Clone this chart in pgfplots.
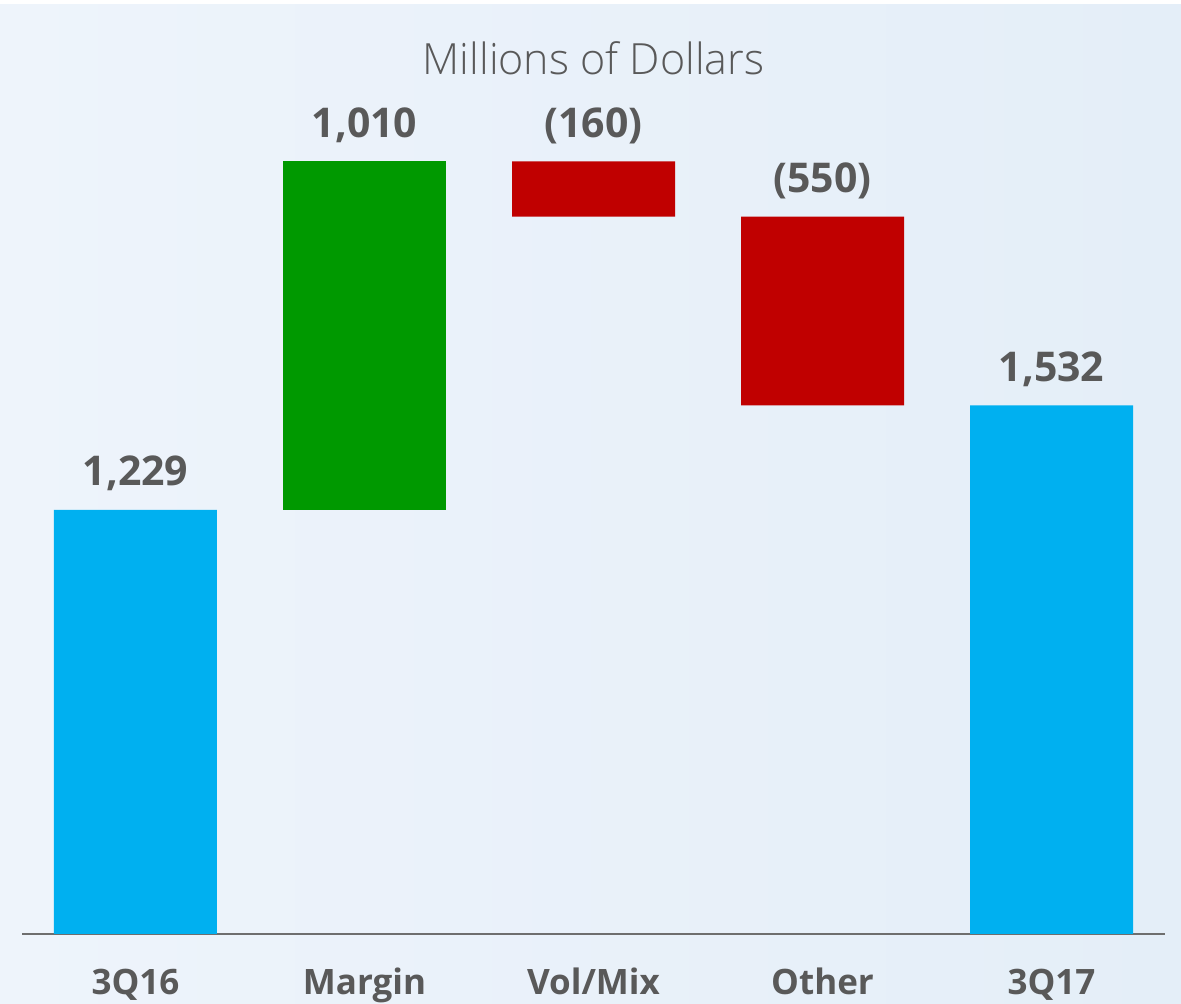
\documentclass[border=0pt]{standalone}
\usepackage{pgfplots}
\pgfplotsset{compat=1.18}
\usepackage{pgfplotstable}
\usepackage{fontspec}
\setmainfont{Open Sans}
\newfontfamily\lightfont{Open Sans Light}
\definecolor{barblue}{HTML}{00B0F0}
\definecolor{bargreen}{HTML}{009900}
\definecolor{barred}{HTML}{C00000}
\definecolor{txt}{HTML}{595959}
\definecolor{axisc}{HTML}{6E6E6E}
\definecolor{bgL}{HTML}{EEF4FB}
\definecolor{bgR}{HTML}{E4EEF8}

% waterfall: invisible base + visible segment
\pgfplotstableread{
x base blue green red
0 0 1229 0 0
1 1229 0 1010 0
2 2079 0 0 160
3 1532 0 0 547
4 0 1532 0 0
}\wf

% value labels at the top of each bar
\pgfplotstableread{
x top lab
0 1229 1,229
1 2239 1,010
2 2239 (160)
3 2079 (550)
4 1532 1,532
}\lbl

\pgfplotsset{common/.style={
  at={(0,0)}, anchor=south west, scale only axis,
  width=571.5pt, height=467pt,
  xmin=-0.4956, xmax=4.4956, ymin=0, ymax=2707, clip=false}}

\begin{document}
\begin{tikzpicture}
\fill[white] (-11pt,-35pt) rectangle (579.5pt,467pt);
\shade[left color=bgL, right color=bgR] (-11pt,-35pt) rectangle (579.5pt,464.5pt);
\begin{axis}[common,
  ybar stacked, bar width=81.5pt,
  axis y line=none, axis x line=bottom,
  x axis line style={-, draw=axisc, line width=1pt},
  xtick={0,1,2,3,4}, xticklabels={3Q16,Margin,Vol/Mix,Other,3Q17},
  major tick length=0pt,
  xticklabel style={font=\fontsize{17.5}{17.5}\selectfont\bfseries, text=txt, anchor=base, yshift=-30.5pt},
]
\addplot[fill=none, draw=none] table[x=x,y=base]{\wf};
\addplot[fill=barblue, draw=none] table[x=x,y=blue]{\wf};
\addplot[fill=bargreen, draw=none] table[x=x,y=green]{\wf};
\addplot[fill=barred, draw=none] table[x=x,y=red]{\wf};
\node[anchor=base, font=\lightfont\fontsize{21.5}{21.5}\selectfont, text=txt] at (rel axis cs:0.5,0.92) {Millions of Dollars};
\end{axis}
\begin{axis}[common, hide axis]
\addplot[draw=none, mark=none, point meta=explicit symbolic, nodes near coords,
  every node near coord/.style={anchor=base, yshift=12pt, font=\fontsize{20.5}{20.5}\selectfont\bfseries, text=txt}]
  table[x=x,y=top,meta=lab]{\lbl};
\end{axis}
\pgfresetboundingbox
\useasboundingbox (-11pt,-35pt) rectangle (579.5pt,467pt);
\end{tikzpicture}
\end{document}
